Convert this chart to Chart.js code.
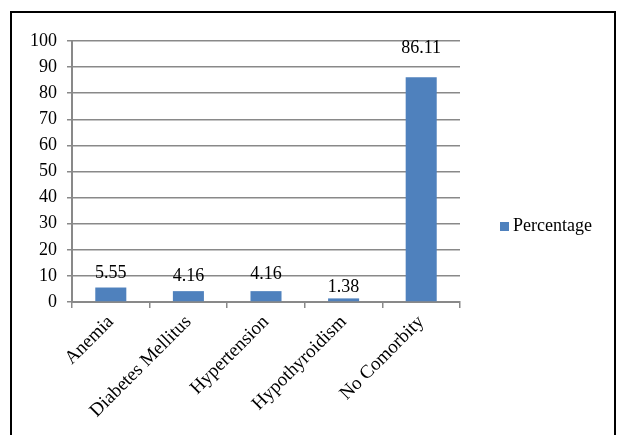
<!DOCTYPE html>
<html>
<head>
<meta charset="utf-8">
<script src="https://cdn.jsdelivr.net/npm/chart.js@4/dist/chart.umd.min.js"></script>
<style>
  html, body { margin: 0; padding: 0; background: #ffffff; }
  #wrap { position: relative; width: 622px; height: 435px; }
  #frame {
    position: absolute; left: 10px; top: 11px; width: 602px; height: 440px;
    border: 2px solid #000; border-bottom: none; pointer-events: none;
  }
  canvas { position: absolute; left: 0; top: 0; }
</style>
</head>
<body>
<div id="wrap">
  <canvas id="c" width="622" height="435"></canvas>
  <div id="frame"></div>
</div>
<script>
// Comorbidity distribution (percentage of patients)
const categories = ['Anemia', 'Diabetes Mellitus', 'Hypertension', 'Hypothyroidism', 'No Comorbity'];
const percentages = [5.55, 4.16, 4.16, 1.38, 86.11];
const seriesName = 'Percentage';
const yTicks = [0, 10, 20, 30, 40, 50, 60, 70, 80, 90, 100];

const serif = "'Liberation Serif', 'Times New Roman', serif";
const gridGray = '#898989';
const barBlue = '#4F81BD';

// Value labels above each bar
const valueLabels = {
  id: 'valueLabels',
  afterDatasetsDraw(chart, args, opts) {
    const ctx = chart.ctx;
    const meta = chart.getDatasetMeta(0);
    ctx.save();
    ctx.font = '18px ' + serif;
    ctx.fillStyle = '#000';
    ctx.textAlign = 'center';
    ctx.textBaseline = 'middle';
    meta.data.forEach((bar, i) => {
      const lift = (opts.lift && opts.lift[i]) || 14;
      ctx.fillText(String(percentages[i]), bar.x, bar.y - lift);
    });
    ctx.restore();
  }
};

// Single-entry legend at the right of the plot
const sideLegend = {
  id: 'sideLegend',
  afterDraw(chart) {
    const ctx = chart.ctx;
    const area = chart.chartArea;
    const x = area.right + 40;
    const y = chart.height / 2 + 9;
    ctx.save();
    ctx.fillStyle = barBlue;
    ctx.fillRect(x, y - 4.5, 9, 9);
    ctx.font = '18px ' + serif;
    ctx.fillStyle = '#000';
    ctx.textAlign = 'left';
    ctx.textBaseline = 'middle';
    ctx.fillText(chart.data.datasets[0].label, x + 13, y);
    ctx.restore();
  }
};

new Chart(document.getElementById('c'), {
  type: 'bar',
  data: {
    labels: categories,
    datasets: [{
      label: seriesName,
      data: percentages,
      backgroundColor: barBlue,
      borderWidth: 0,
      categoryPercentage: 1.0,
      barPercentage: 0.4
    }]
  },
  options: {
    responsive: false,
    animation: false,
    devicePixelRatio: 1,
    layout: { padding: { left: 10, top: 41, right: 162, bottom: 0 } },
    plugins: {
      legend: { display: false },
      tooltip: { enabled: false },
      valueLabels: { lift: [14, 15, 17, 11, 29] }
    },
    scales: {
      x: {
        offset: true,
        grid: {
          offset: true,
          drawOnChartArea: false,
          drawTicks: true,
          tickLength: 6,
          color: gridGray,
          lineWidth: 1.5
        },
        border: { color: gridGray, width: 2 },
        ticks: {
          color: '#000',
          font: { family: serif, size: 19 },
          minRotation: 45,
          maxRotation: 45,
          padding: 3,
          autoSkip: false
        },
        afterFit(scale) { scale.height = 133; }
      },
      y: {
        min: 0,
        max: 100,
        afterBuildTicks(scale) { scale.ticks = yTicks.map(v => ({ value: v })); },
        grid: {
          color: gridGray,
          lineWidth: 1.5,
          drawTicks: true,
          tickLength: 5
        },
        border: { color: gridGray, width: 2 },
        ticks: {
          color: '#000',
          font: { family: serif, size: 18 },
          padding: 10
        },
        afterFit(scale) { scale.width = 62; }
      }
    }
  },
  plugins: [valueLabels, sideLegend]
});
</script>
</body>
</html>
